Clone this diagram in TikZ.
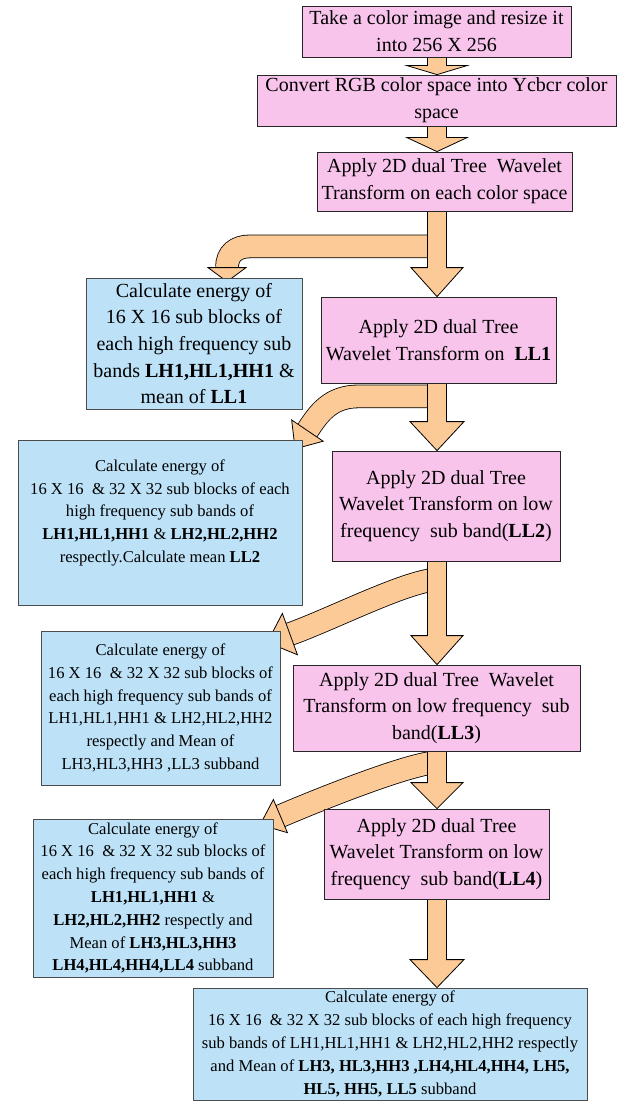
\documentclass[tikz,border=0pt]{standalone}
\usepackage{fontspec}
\setmainfont{Liberation Serif}
\usepackage{tikz}
\usetikzlibrary{calc,backgrounds}

\definecolor{boxpink}{RGB}{248,196,236}
\definecolor{boxblue}{RGB}{189,226,248}
\definecolor{bandorange}{RGB}{252,202,150}

\newcommand{\blockdown}[4]{%
    \draw[blockarrow] ($(#1.south -| s)+(-9.5,0)$) -- ($(#2.north -| s)+(-9.5,-#3)$)
        -- ($(#2.north -| s)+(-#4,-#3)$) -- (#2.north -| s)
        -- ($(#2.north -| s)+(#4,-#3)$) -- ($(#2.north -| s)+(9.5,-#3)$)
        -- ($(#1.south -| s)+(9.5,0)$);}
\newcommand{\bandtip}[4]{%
    \draw[blockarrow, shift={(#1)}, rotate=#2] (0,-#3) -- (#4,0) -- (0,#3) -- cycle;}

\begin{document}
\begin{tikzpicture}[x=1pt, y=-1pt,
    pink/.style={draw=black!85, fill=boxpink, line width=0.8pt, align=center, inner sep=0pt, font=\fontsize{20}{26.7}\selectfont},
    blue/.style={draw=black!70, fill=boxblue, line width=0.8pt, align=center, inner sep=0pt, font=\fontsize{16.6}{22.8}\selectfont},
    big/.style={font=\fontsize{20}{26.7}\selectfont},
    box/.style 2 args={minimum width=#1pt, minimum height=#2pt},
    band/.style={draw=black, double=bandorange, double distance=22pt, line width=0.8pt},
    blockarrow/.style={draw=black, fill=bandorange, line width=0.8pt}]
    \useasboundingbox (0,0) rectangle (622,1102);
    \coordinate (s) at (437,0);

    \node[pink, box={269}{51}] (1) at (436.5,31.5) {Take a color image and resize it\\into 256 X 256};
    \node[pink, box={359}{51}] (2) at (436.5,100.5) {Convert RGB color space into Ycbcr color\\space};
    \node[pink, box={255}{59}] (3) at (444.5,181.5) {Apply 2D dual Tree~ Wavelet\\Transform on each color space};

    \node[blue, big, box={216}{131}] (4) at (194,343.5) {Calculate energy of\\16 X 16 sub blocks of\\each high frequency sub\\bands \textbf{LH1,HL1,HH1} \&\\mean of \textbf{LL1}};
    \node[pink, box={235}{86}] (5) at (438.5,340) {Apply 2D dual Tree\\Wavelet Transform on~ \textbf{LL1}};

    \node[blue, box={284}{165}] (6) at (160,522.5) {Calculate energy of\\16 X 16~ \& 32 X 32 sub blocks of each\\high frequency sub bands of\\\textbf{LH1,HL1,HH1} \& \textbf{LH2,HL2,HH2}\\respectly.Calculate mean \textbf{LL2}\\ \mbox{}};
    \node[pink, box={228}{110}] (7) at (446,506) {Apply 2D dual Tree\\Wavelet Transform on low\\frequency~ sub band(\textbf{LL2})};

    \node[blue, box={239}{154}] (8) at (160.5,708) {Calculate energy of\\16 X 16~ \& 32 X 32 sub blocks of\\each high frequency sub bands of\\LH1,HL1,HH1 \& LH2,HL2,HH2\\respectly and Mean of\\LH3,HL3,HH3 ,LL3 subband};
    \node[pink, box={287}{86}] (9) at (436.5,708) {Apply 2D dual Tree~ Wavelet\\Transform on low frequency~ sub\\band(\textbf{LL3})};

    \node[blue, box={240}{158}] (10) at (153,898) {Calculate energy of\\16 X 16~ \& 32 X 32 sub blocks of\\each high frequency sub bands of\\\textbf{LH1,HL1,HH1} \&\\\textbf{LH2,HL2,HH2} respectly and\\Mean of \textbf{LH3,HL3,HH3}\\\textbf{LH4,HL4,HH4,LL4} subband};
    \node[pink, box={225}{90}] (11) at (436.5,854) {Apply 2D dual Tree\\Wavelet Transform on low\\frequency~ sub band(\textbf{LL4})};

    \node[blue, box={394}{112}] (12) at (390,1044) {Calculate energy of\\16 X 16~ \& 32 X 32 sub blocks of each high frequency\\sub bands of LH1,HL1,HH1 \& LH2,HL2,HH2 respectly\\and Mean of \textbf{LH3, HL3,HH3 ,LH4,HL4,HH4, LH5,}\\\textbf{HL5, HH5, LL5} subband};

    \begin{scope}[on background layer]
        \coordinate (a1) at ($(3.south -| s)+(0,35)$);
        \coordinate (a2) at ($(5.south -| s)+(0,13)$);
        \coordinate (a3) at ($(7.south -| s)+(0,18)$);
        \coordinate (a4) at ($(9.south -| s)+(0,11)$);
        \coordinate (h1) at ($(4.north)+(33,-10)$);
        \coordinate (h2) at ($(6.north east)+(5,-9)$);
        \coordinate (h3) at ($(8.north east)+(9.5,3.5)$);
        \coordinate (h4) at ($(10.north east)+(7,-2.5)$);

        \draw[band] (a1) -- ($(h1 |- a1)+(23,0)$) .. controls +(-14,0) and +(0,-14) .. (h1);
        \draw[band] (a2) -- ($(h2 |- a2)+(51,0)$) .. controls +(-28,0) and +(11,-17) .. (h2);
        \draw[band] (a3) .. controls +(-32,2) and +(42,-15) .. (h3);
        \draw[band] (a4) .. controls +(-25,0) and +(37,-16) .. (h4);

        \bandtip{h1}{270}{19}{14}
        \bandtip{h2}{236}{19}{22}
        \bandtip{h3}{200}{22}{24}
        \bandtip{h4}{203}{18}{22}

        \blockdown{1}{2}{9}{30}
        \blockdown{2}{3}{14}{30}
        \blockdown{3}{5}{29}{26}
        \blockdown{5}{7}{29}{27}
        \blockdown{7}{9}{29}{26}
        \blockdown{9}{11}{26}{26}
        \blockdown{11}{12}{28}{27}
    \end{scope}
\end{tikzpicture}
\end{document}
